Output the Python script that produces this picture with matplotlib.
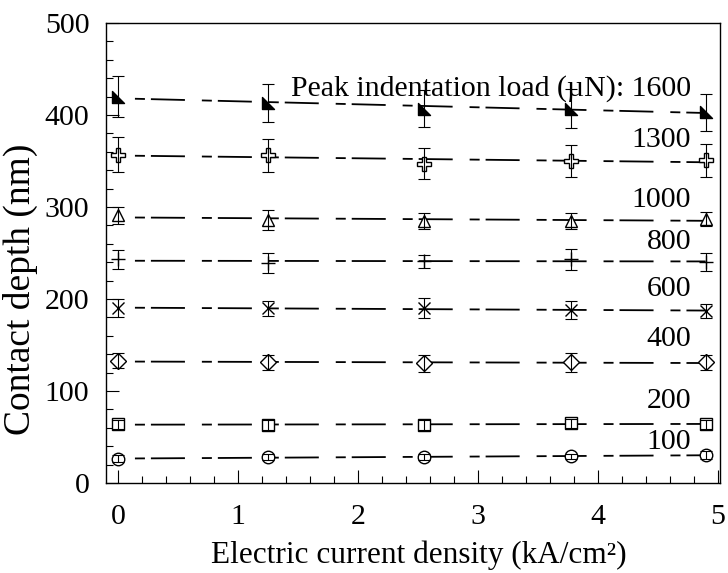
import numpy as np
import matplotlib
matplotlib.use("Agg")
import matplotlib.pyplot as plt
from matplotlib.path import Path
from matplotlib.ticker import MultipleLocator

# current density (kA/cm^2)
current = [0, 1.25, 2.55, 3.78, 4.9]

# peak indentation load (uN) -> contact depth (nm) and error
loads = ["1600", "1300", "1000", "800", "600", "400", "200", "100"]
depth_1600 = [420, 413, 407, 407, 403]
depth_1300 = [357, 356, 347, 350, 351]
depth_1000 = [291, 286, 285, 285, 287]
depth_800 = [243, 239, 241, 243, 240]
depth_600 = [190, 190, 190, 188, 187]
depth_400 = [133, 131, 130, 131, 131]
depth_200 = [64, 63, 63, 65, 64]
depth_100 = [26.5, 28, 28, 29, 30.5]

err_1600 = [22, 21, 20, 21, 20]
err_1300 = [19, 18, 17, 17, 18]
err_1000 = [9, 11, 9, 9, 8]
err_800 = [10, 11, 7, 11, 10]
err_600 = [10, 8, 11, 10, 8]
err_400 = [8, 8, 9, 10, 8]
err_200 = [5, 5, 5, 5, 5]
err_100 = [4, 3, 3, 3, 4]

# label baseline heights (nm) for the load annotations
label_y = [421, 365, 300, 254, 203, 149, 82, 37]

depths = [depth_1600, depth_1300, depth_1000, depth_800,
          depth_600, depth_400, depth_200, depth_100]
errs = [err_1600, err_1300, err_1000, err_800,
        err_600, err_400, err_200, err_100]

# right triangle marker (like the filled one in the original)
rtri = Path([(-1, 1), (-1, -1), (1, -1), (-1, 1)],
            [Path.MOVETO, Path.LINETO, Path.LINETO, Path.CLOSEPOLY])
markers = [rtri, "P", "^", "+", "x", "D", "s", "o"]
msizes = [9, 10, 9, 10, 9, 8, 9, 9]
faces = ["k", "white", "white", "k", "k", "white", "white", "white"]

plt.rcParams['font.family'] = ['Liberation Serif', 'DejaVu Serif']
plt.rcParams['lines.scale_dashes'] = False

fig = plt.figure(figsize=(7.28, 5.73), dpi=100)
ax = fig.add_axes([106 / 728, 1 - 483 / 573, 614 / 728, 460 / 573])

x = np.array(current)
for d, e, m, ms, fc in zip(depths, errs, markers, msizes, faces):
    # linear trend line through the points
    k, b = np.polyfit(x, d, 1)
    xs = np.array([x[0], x[-1]])
    ax.plot(xs, k * xs + b, color='k', lw=1.3,
            linestyle=(36, (7.2, 4.3, 24.5, 12.2)), zorder=1)
    ax.plot(x, d, linestyle='none', marker=m, ms=ms, mfc=fc, mec='k',
            mew=1.0, zorder=2)
    ax.errorbar(x, d, yerr=e, fmt='none', ecolor='k', elinewidth=0.8,
                capsize=4, capthick=0.8, zorder=3)

for i, (lab, ly) in enumerate(zip(loads, label_y)):
    txt = lab if i > 0 else "Peak indentation load (\u00b5N): " + lab
    ax.text(4.78, ly, txt, ha='right', va='baseline', fontsize=21.5)

ax.set_xlim(-0.1, 5.02)
ax.set_ylim(0, 500)
ax.xaxis.set_major_locator(MultipleLocator(1))
ax.xaxis.set_minor_locator(MultipleLocator(0.2))
ax.yaxis.set_major_locator(MultipleLocator(100))
ax.yaxis.set_minor_locator(MultipleLocator(20))
ax.tick_params(which='both', direction='in', top=False, right=False,
               labelsize=21.5, width=0.8)
ax.tick_params(which='major', length=9.5)
ax.tick_params(which='minor', length=5)
ax.tick_params(axis='x', pad=15)
ax.tick_params(axis='y', pad=12)
for s in ax.spines.values():
    s.set_linewidth(1.0)

ax.set_xlabel("Electric current density (kA/cm\u00b2)", fontsize=22.5)
ax.set_ylabel("Contact depth (nm)", fontsize=27)
ax.xaxis.set_label_coords(0.51, -0.124)
ax.yaxis.set_label_coords(-0.11, 0.42)

fig.savefig("out.png", dpi=100)
